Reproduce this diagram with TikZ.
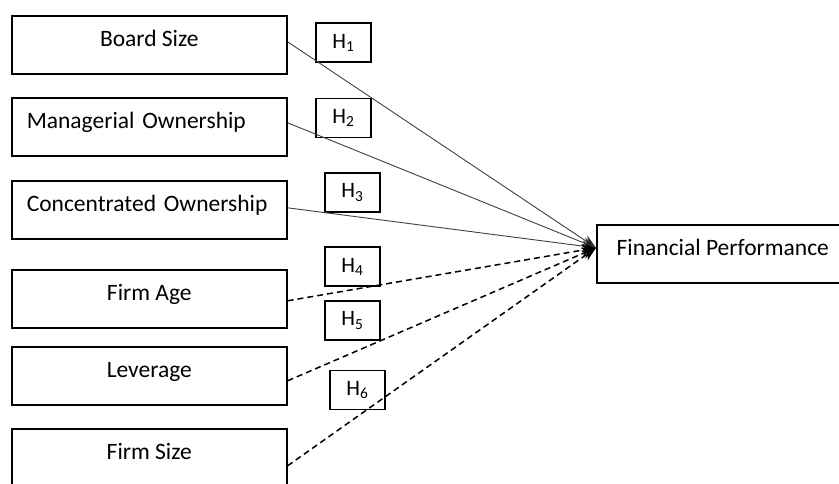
\documentclass[tikz,border=0pt]{standalone}
\usepackage{fontspec}
\setmainfont{Carlito}
\usetikzlibrary{arrows.meta}
\begin{document}
\begin{tikzpicture}[x=1pt,y=-1pt,
  varbox/.style={draw=black, line width=1.6pt, minimum width=275pt, minimum height=58pt,
    inner xsep=0pt, inner ysep=0pt, text height=16pt, text depth=12pt,
    font=\fontsize{23.5}{25}\selectfont, anchor=north west},
  leftbox/.style={varbox, text width=245pt, inner xsep=15pt, align=left},
  hbox/.style={draw=black, line width=1.4pt, minimum width=55pt, minimum height=39pt,
    inner sep=0pt, font=\fontsize{22}{24}\selectfont},
  solidlink/.style={draw=black!75, line width=0.9pt, -{Stealth[length=14pt,width=11pt,fill=black]}},
  dashlink/.style={draw=black, line width=1.5pt, dash pattern=on 6pt off 4pt, -{Stealth[length=14pt,width=11pt,fill=black]}}
]
\clip (0,0) rectangle (839,483);
\node[varbox, align=center] (bs) at (11,15) {Board Size};
\node[leftbox] (mo) at (11,97) {Managerial Ownership};
\node[leftbox] (co) at (11,180) {Concentrated Ownership};
\node[varbox, align=center] (fa) at (11,269) {Firm Age};
\node[varbox, align=center] (lv) at (11,346) {Leverage};
\node[varbox, align=center] (fs) at (11,428) {Firm Size};
\node[draw=black, line width=1.6pt, minimum width=252pt, minimum height=58pt, inner sep=0pt,
  text height=16pt, text depth=12pt, font=\fontsize{23.5}{25}\selectfont, anchor=north west]
  (fp) at (596,224) {Financial Performance};
\coordinate (tip) at ([yshift=6pt]fp.west);

\node[hbox] (h1) at (343.5,42.5) {H\textsubscript{1}};
\node[hbox] (h2) at (343.5,118) {H\textsubscript{2}};
\node[hbox] (h3) at (352.5,192.5) {H\textsubscript{3}};
\node[hbox] (h4) at (352.5,266.5) {H\textsubscript{4}};
\node[hbox] (h5) at (352.5,320.5) {H\textsubscript{5}};
\node[hbox] (h6) at (357.5,390) {H\textsubscript{6}};

\draw[solidlink] ([yshift=3pt]bs.east) -- (tip);
\draw[solidlink] ([yshift=4pt]mo.east) -- (tip);
\draw[solidlink] ([yshift=2pt]co.east) -- (tip);
\draw[dashlink] ([yshift=-2pt]fa.east) -- (tip);
\draw[dashlink] ([yshift=-5pt]lv.east) -- (tip);
\draw[dashlink] ([yshift=-8pt]fs.east) -- (tip);
\end{tikzpicture}
\end{document}
